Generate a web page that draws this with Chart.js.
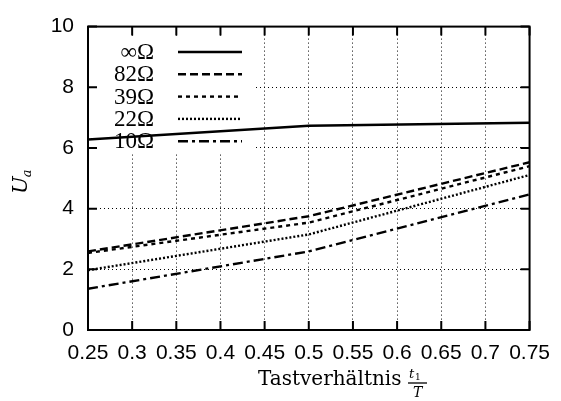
<!DOCTYPE html>
<html>
<head>
<meta charset="utf-8">
<script src="https://cdn.jsdelivr.net/npm/chart.js@4"></script>
<style>
  html, body { margin: 0; padding: 0; background: #fff; }
  canvas { display: block; }
</style>
</head>
<body>
<canvas id="chart" width="561" height="401"></canvas>
<script>
// duty cycle t1/T
const dutyCycle = [0.25, 0.5, 0.75];
// output voltage per load resistor
const loadLabels = ['∞Ω', '82Ω', '39Ω', '22Ω', '10Ω'];
const uInf = [6.28, 6.73, 6.83];
const u82 = [2.59, 3.75, 5.53];
const u39 = [2.54, 3.54, 5.40];
const u22 = [1.97, 3.15, 5.11];
const u10 = [1.36, 2.59, 4.47];
const dashes = [[], [8, 4], [4, 4], [2, 2], [10, 4, 3, 4]];

const series = [uInf, u82, u39, u22, u10];
const serif = '"Liberation Serif", "DejaVu Serif", serif';
const wideSerif = '"DejaVu Serif", "Liberation Serif", serif';
const sans = '"Liberation Sans", Arial, sans-serif';

const datasets = series.map((vals, i) => ({
    label: loadLabels[i],
    data: vals.map((v, j) => ({x: dutyCycle[j], y: v})),
    borderColor: '#000',
    borderWidth: 2.4,
    borderDash: dashes[i],
    pointRadius: 0,
    tension: 0,
    fill: false
}));

const gnuFrame = {
    id: 'gnuFrame',
    beforeDatasetsDraw(chart) {
        const ctx = chart.ctx;
        // key box hides the grid behind it
        ctx.save();
        ctx.fillStyle = '#fff';
        ctx.fillRect(90, 38, 166, 115);
        ctx.font = '23px ' + serif;
        ctx.textAlign = 'right';
        ctx.textBaseline = 'middle';
        ctx.fillStyle = '#000';
        ctx.strokeStyle = '#000';
        ctx.lineWidth = 2.4;
        loadLabels.forEach((lab, i) => {
            const y = 52 + i * 22.3;
            ctx.fillText(lab, 154, y + 1);
            ctx.setLineDash(dashes[i]);
            ctx.beginPath();
            ctx.moveTo(178, y);
            ctx.lineTo(242, y);
            ctx.stroke();
        });
        ctx.restore();
    },
    afterDraw(chart) {
        const {ctx, chartArea: a, scales} = chart;
        ctx.save();
        ctx.strokeStyle = '#000';
        ctx.lineWidth = 2;
        ctx.setLineDash([]);
        ctx.strokeRect(a.left, a.top, a.right - a.left, a.bottom - a.top);
        // inward ticks on all four sides
        ctx.beginPath();
        scales.x.ticks.forEach(t => {
            const x = scales.x.getPixelForValue(t.value);
            ctx.moveTo(x, a.bottom); ctx.lineTo(x, a.bottom - 9);
            ctx.moveTo(x, a.top); ctx.lineTo(x, a.top + 9);
        });
        scales.y.ticks.forEach(t => {
            const y = scales.y.getPixelForValue(t.value);
            ctx.moveTo(a.left, y); ctx.lineTo(a.left + 9, y);
            ctx.moveTo(a.right, y); ctx.lineTo(a.right - 9, y);
        });
        ctx.stroke();

        // x axis title with fraction t1/T
        ctx.fillStyle = '#000';
        ctx.textBaseline = 'alphabetic';
        ctx.textAlign = 'left';
        ctx.font = '20px ' + wideSerif;
        ctx.fillText('Tastverhältnis', 258, 385);
        const fx = 408;
        ctx.font = 'italic 13px ' + wideSerif;
        ctx.fillText('t', fx + 1, 378);
        ctx.font = '9px ' + wideSerif;
        ctx.fillText('1', fx + 7, 380);
        ctx.lineWidth = 1.3;
        ctx.beginPath();
        ctx.moveTo(fx, 383); ctx.lineTo(fx + 19, 383);
        ctx.stroke();
        ctx.font = 'italic 14px ' + wideSerif;
        ctx.fillText('T', fx + 5, 397);

        // y axis title U_a
        ctx.translate(27, 194);
        ctx.rotate(-Math.PI / 2);
        ctx.font = 'italic 21px ' + wideSerif;
        ctx.fillText('U', 0, 0);
        const uw = ctx.measureText('U').width;
        ctx.font = 'italic 13px ' + wideSerif;
        ctx.fillText('a', uw - 1, 4);
        ctx.restore();
    }
};

new Chart(document.getElementById('chart').getContext('2d'), {
    type: 'line',
    data: {datasets: datasets},
    options: {
        responsive: false,
        animation: false,
        layout: {padding: {top: 21, right: 22, left: 0, bottom: 0}},
        plugins: {legend: {display: false}, tooltip: {enabled: false}},
        scales: {
            x: {
                type: 'linear',
                min: 0.25,
                max: 0.75,
                afterFit: s => { s.height = 71; },
                ticks: {
                    stepSize: 0.05,
                    padding: 11,
                    color: '#000',
                    font: {family: sans, size: 21},
                    maxRotation: 0,
                    autoSkip: false,
                    callback: v => String(+v.toFixed(2))
                },
                grid: {color: '#000', lineWidth: 1, drawTicks: false},
                border: {display: false, dash: [1, 3]}
            },
            y: {
                min: 0,
                max: 10,
                afterFit: s => { s.width = 88; },
                ticks: {
                    stepSize: 2,
                    padding: 14,
                    color: '#000',
                    font: {family: sans, size: 21}
                },
                grid: {color: '#000', lineWidth: 1, drawTicks: false},
                border: {display: false, dash: [1, 3]}
            }
        }
    },
    plugins: [gnuFrame]
});
</script>
</body>
</html>
